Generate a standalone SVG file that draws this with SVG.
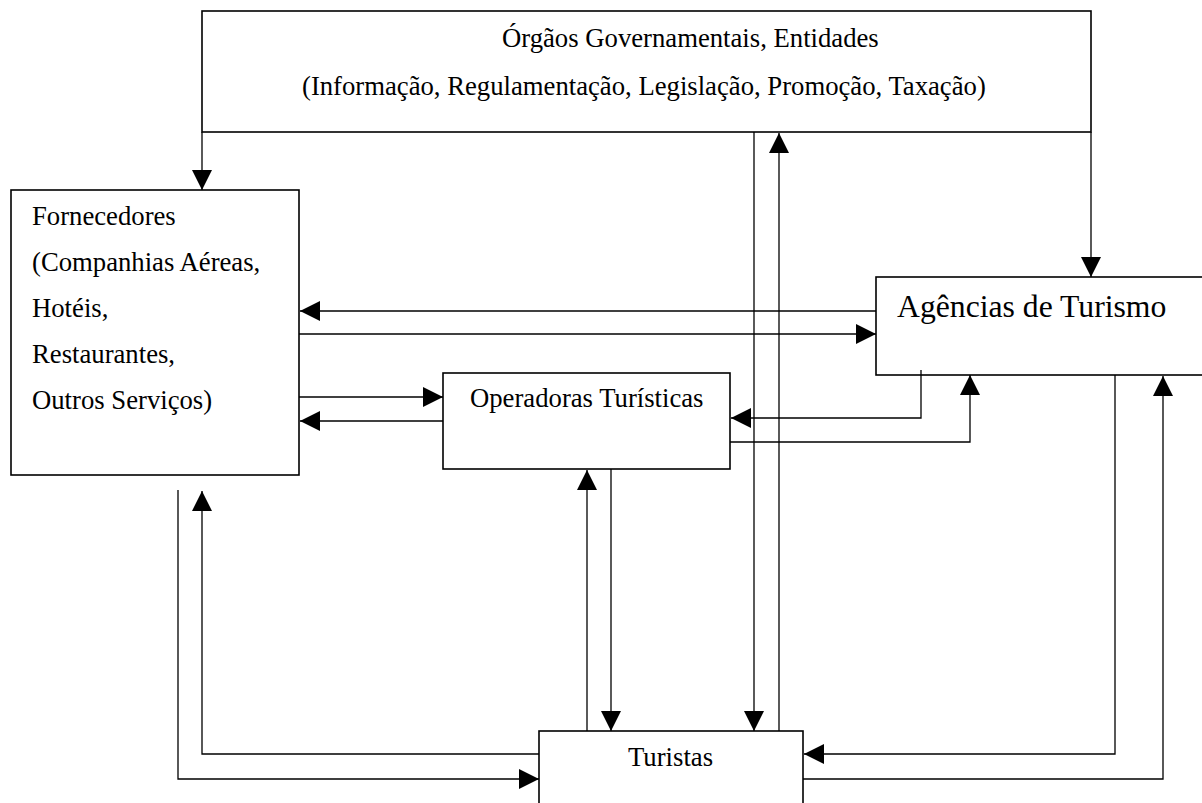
<svg xmlns="http://www.w3.org/2000/svg" width="1202" height="803" viewBox="0 0 1202 803">
<defs>
<style>
.box{fill:#fff;stroke:#000;stroke-width:1.6}
.t{font-family:"Liberation Serif","Times New Roman",serif;font-size:26.7px;fill:#000}
.big{font-size:31.7px}
.c{fill:none;stroke:#000;stroke-width:1.3}
</style>
<marker id="ah" markerUnits="userSpaceOnUse" markerWidth="20" markerHeight="20" refX="20" refY="10" orient="auto" viewBox="0 0 20 20">
<path d="M0,0 L20,10 L0,20 z" fill="#000"/>
</marker>
</defs>
<rect width="1202" height="803" fill="#fff"/>
<g id="orgaos">
<rect class="box" x="202" y="11" width="889" height="121"/>
<text class="t" x="502" y="47">Órgãos Governamentais, Entidades</text>
<text class="t" x="302" y="95">(Informação, Regulamentação, Legislação, Promoção, Taxação)</text>
</g>
<g id="fornecedores">
<rect class="box" x="11" y="190" width="288" height="285"/>
<text class="t" x="32" y="225">Fornecedores</text>
<text class="t" x="32" y="271">(Companhias Aéreas,</text>
<text class="t" x="32" y="317">Hotéis,</text>
<text class="t" x="32" y="363">Restaurantes,</text>
<text class="t" x="32" y="409">Outros Serviços)</text>
</g>
<g id="agencias">
<rect class="box" x="876" y="277" width="340" height="98"/>
<text class="t big" x="897" y="317">Agências de Turismo</text>
</g>
<g id="operadoras">
<rect class="box" x="443" y="373" width="287" height="96"/>
<text class="t" x="470" y="407">Operadoras Turísticas</text>
</g>
<g id="turistas">
<rect class="box" x="539" y="731" width="264" height="100"/>
<text class="t" x="628" y="766">Turistas</text>
</g>
<g id="connectors">
<path class="c" d="M202,132 V190" marker-end="url(#ah)"/>
<path class="c" d="M1091,132 V277" marker-end="url(#ah)"/>
<path class="c" d="M754,132 V731" marker-end="url(#ah)"/>
<path class="c" d="M779,731 V133" marker-end="url(#ah)"/>
<path class="c" d="M876,311 H300" marker-end="url(#ah)"/>
<path class="c" d="M299,334 H876" marker-end="url(#ah)"/>
<path class="c" d="M299,397 H443" marker-end="url(#ah)"/>
<path class="c" d="M443,421 H300" marker-end="url(#ah)"/>
<path class="c" d="M921,370 V418 H731" marker-end="url(#ah)"/>
<path class="c" d="M730,442 H970 V375" marker-end="url(#ah)"/>
<path class="c" d="M1115,375 V754 H804" marker-end="url(#ah)"/>
<path class="c" d="M803,779 H1163 V376" marker-end="url(#ah)"/>
<path class="c" d="M587,731 V470" marker-end="url(#ah)"/>
<path class="c" d="M611,469 V731" marker-end="url(#ah)"/>
<path class="c" d="M539,754 H202 V491" marker-end="url(#ah)"/>
<path class="c" d="M178,490 V779 H539" marker-end="url(#ah)"/>
</g>
</svg>
